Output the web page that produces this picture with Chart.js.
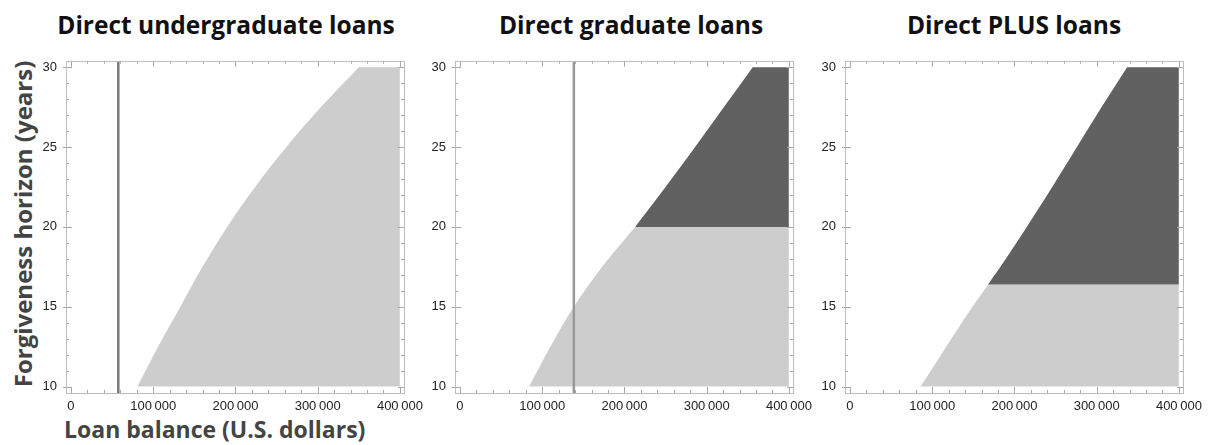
<!DOCTYPE html>
<html lang="en">

<head>
  <meta charset="UTF-8" />
  <title>Forgiveness horizon by loan balance</title>
  <script src="https://cdn.jsdelivr.net/npm/chart.js"></script>
  <style>
    body {
      margin: 0;
      background: #fff;
      width: 1214px;
      height: 445px;
      position: relative;
      overflow: hidden;
      font-family: "Open Sans", Lato, sans-serif;
    }

    canvas {
      position: absolute;
    }

    .panel-title {
      position: absolute;
      top: 8px;
      font-weight: bold;
      font-size: 24.5px;
      color: #111;
      white-space: nowrap;
      transform: translateX(-50%);
    }

    #y-title {
      position: absolute;
      left: 22px;
      top: 224px;
      font-weight: bold;
      font-size: 24px;
      color: #444;
      white-space: nowrap;
      transform: translate(-50%, -50%) rotate(-90deg);
    }

    #x-title {
      position: absolute;
      left: 64px;
      top: 413px;
      font-weight: bold;
      font-size: 23px;
      color: #444;
      white-space: nowrap;
    }
  </style>
</head>

<body>

  <div class="panel-title" style="left: 226px;">Direct undergraduate loans</div>
  <div class="panel-title" style="left: 631px;">Direct graduate loans</div>
  <div class="panel-title" style="left: 1014px;">Direct PLUS loans</div>
  <div id="y-title">Forgiveness horizon (years)</div>
  <div id="x-title">Loan balance (U.S. dollars)</div>

  <canvas id="undergradChart"></canvas>
  <canvas id="gradChart"></canvas>
  <canvas id="plusChart"></canvas>

  <script>
    // axes
    const xTickValues = [0, 100000, 200000, 300000, 400000];
    const yTickValues = [10, 15, 20, 25, 30];
    const maxBalance = 400000;

    // forgiveness horizon levels (years) and the loan balance where the region starts
    const horizonLevels = [10, 12.5, 15, 17.5, 20, 22.5, 25, 27.5, 30];
    const undergradBoundary = [80800, 106000, 133000, 160000, 190000, 224000, 262000, 304000, 350000];
    const gradBoundary = [84000, 110000, 138500, 173000, 213000, 250000, 286000, 321000, 356000];

    const plusLevels = [10, 12.5, 15, 16.4, 17.5, 20, 22.5, 25, 27.5, 30];
    const plusBoundary = [86000, 117000, 149000, 168000, 183000, 215000, 246000, 276000, 306000, 337000];

    // horizon above which the region turns dark
    const gradDarkFrom = 20;
    const plusDarkFrom = 16.4;

    // vertical reference lines (loan balance)
    const undergradMarker = 57600;
    const gradMarker = 138500;

    const X_MIN = -6000, X_MAX = 405000;
    const Y_MIN = 9.6, Y_MAX = 30.4;

    const LIGHT = '#cdcdcd';
    const DARK = '#616161';

    // region between the boundary curve and the max balance, from lo to hi
    // corner points are doubled so the curve tension does not round them
    function regio(levels, boundary, lo, hi) {
      const pts = [];
      levels.forEach((y, i) => {
        if (y >= lo && y <= hi) pts.push({ x: boundary[i], y: y });
      });
      const top = pts[pts.length - 1];
      pts.push({ x: top.x, y: hi });
      pts.push({ x: maxBalance, y: hi });
      pts.push({ x: maxBalance, y: hi });
      pts.push({ x: maxBalance, y: lo });
      pts.push({ x: maxBalance, y: lo });
      return pts;
    }

    function areaDataset(points, lo, color) {
      return {
        data: points,
        borderWidth: 0,
        pointRadius: 0,
        backgroundColor: color,
        fill: { value: lo },
        tension: 0.35
      };
    }

    function markerDataset(x, color) {
      return {
        data: [{ x: x, y: Y_MIN }, { x: x, y: Y_MAX }],
        borderColor: color,
        borderWidth: 2.5,
        pointRadius: 0,
        fill: false,
        tension: 0
      };
    }

    // frame with inward ticks on the four sides
    const frameTicks = {
      id: 'frameTicks',
      afterDatasetsDraw(chart) {
        const { ctx, chartArea: a } = chart;
        const xs = chart.scales.x, ys = chart.scales.y;
        ctx.save();
        ctx.strokeStyle = '#a8a8a8';
        ctx.lineWidth = 1;
        ctx.beginPath();
        for (let v = 0; v <= maxBalance; v += 20000) {
          const px = Math.round(xs.getPixelForValue(v)) + 0.5;
          const len = v % 100000 === 0 ? 6 : 3;
          ctx.moveTo(px, a.bottom); ctx.lineTo(px, a.bottom - len);
          ctx.moveTo(px, a.top); ctx.lineTo(px, a.top + len);
        }
        for (let v = 10; v <= 30; v += 1) {
          const py = Math.round(ys.getPixelForValue(v)) + 0.5;
          const len = v % 5 === 0 ? 6 : 3;
          ctx.moveTo(a.left - (v % 5 === 0 ? 3 : 0), py); ctx.lineTo(a.left + len, py);
          ctx.moveTo(a.right, py); ctx.lineTo(a.right - len, py);
        }
        ctx.stroke();
        ctx.strokeStyle = '#bdbdbd';
        ctx.strokeRect(Math.round(a.left) + 0.5, Math.round(a.top) + 0.5,
          Math.round(a.right - a.left), Math.round(a.bottom - a.top));
        ctx.restore();
      }
    };

    function formatBalance(v) {
      if (v === 0) return '0';
      const s = String(v);
      return s.slice(0, s.length - 3) + '\u2009' + s.slice(-3);
    }

    const AXIS_W = 44, AXIS_H = 30, PAD_TOP = 10, PAD_RIGHT = 30;

    function crearPanell(id, frame, datasets) {
      const canvas = document.getElementById(id);
      const w = frame.right - frame.left + AXIS_W + PAD_RIGHT;
      const h = frame.bottom - frame.top + PAD_TOP + AXIS_H;
      canvas.width = w;
      canvas.height = h;
      canvas.style.left = (frame.left - AXIS_W) + 'px';
      canvas.style.top = (frame.top - PAD_TOP) + 'px';

      const tickFont = { family: '"Liberation Sans", Arial, sans-serif', size: 13 };

      new Chart(canvas.getContext('2d'), {
        type: 'line',
        data: { datasets: datasets },
        options: {
          responsive: false,
          animation: false,
          events: [],
          layout: { padding: { left: 0, top: PAD_TOP, right: PAD_RIGHT, bottom: 0 } },
          plugins: {
            legend: { display: false },
            tooltip: { enabled: false }
          },
          scales: {
            x: {
              type: 'linear',
              min: X_MIN,
              max: X_MAX,
              grid: { display: false, drawTicks: false },
              border: { display: false },
              afterBuildTicks: scale => { scale.ticks = xTickValues.map(v => ({ value: v })); },
              afterFit: scale => { scale.height = AXIS_H; },
              ticks: {
                padding: 6,
                color: '#222',
                font: tickFont,
                maxRotation: 0,
                autoSkip: false,
                callback: v => formatBalance(v)
              }
            },
            y: {
              type: 'linear',
              min: Y_MIN,
              max: Y_MAX,
              grid: { display: false, drawTicks: false },
              border: { display: false },
              afterBuildTicks: scale => { scale.ticks = yTickValues.map(v => ({ value: v })); },
              afterFit: scale => { scale.width = AXIS_W; },
              ticks: {
                padding: 9,
                color: '#222',
                font: tickFont
              }
            }
          }
        },
        plugins: [frameTicks]
      });
    }

    crearPanell('undergradChart', { left: 66, top: 54, right: 404, bottom: 393 }, [
      markerDataset(undergradMarker, '#7a7a7a'),
      areaDataset(regio(horizonLevels, undergradBoundary, 10, 30), 10, LIGHT)
    ]);

    crearPanell('gradChart', { left: 455, top: 54, right: 793, bottom: 393 }, [
      markerDataset(gradMarker, '#999999'),
      areaDataset(regio(horizonLevels, gradBoundary, gradDarkFrom, 30), gradDarkFrom, DARK),
      areaDataset(regio(horizonLevels, gradBoundary, 10, gradDarkFrom), 10, LIGHT)
    ]);

    crearPanell('plusChart', { left: 845, top: 54, right: 1183, bottom: 393 }, [
      areaDataset(regio(plusLevels, plusBoundary, plusDarkFrom, 30), plusDarkFrom, DARK),
      areaDataset(regio(plusLevels, plusBoundary, 10, plusDarkFrom), 10, LIGHT)
    ]);
  </script>

</body>

</html>
